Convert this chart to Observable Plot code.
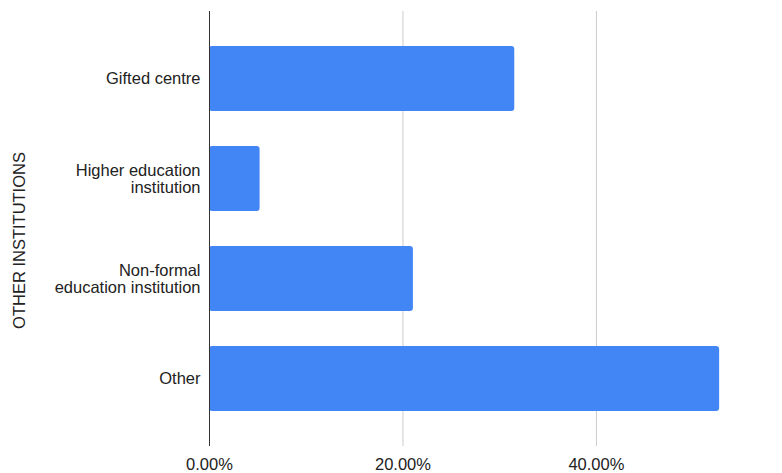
<!DOCTYPE html>
<html>
<head>
<meta charset="utf-8">
<script src="https://cdn.jsdelivr.net/npm/d3@7"></script>
<script src="https://cdn.jsdelivr.net/npm/@observablehq/plot@0.6"></script>
<style>
  body { margin: 0; background: #fff; }
</style>
</head>
<body>
<div id="chart"></div>
<script>
const categories = ["Gifted centre", "Higher education\ninstitution", "Non-formal\neducation institution", "Other"];
const values = [0.3156, 0.0523, 0.2108, 0.5274];
const xTicks = [0, 0.2, 0.4];
const yTitle = "OTHER INSTITUTIONS";

const data = categories.map((c, i) => ({category: c, value: values[i]}));

const chart = Plot.plot({
  width: 782,
  height: 473,
  marginLeft: 209,
  marginRight: 41,
  marginTop: 11,
  marginBottom: 27,
  style: {fontFamily: "'Liberation Sans', Arial, sans-serif", fontSize: "16.5px", color: "#222", background: "#fff"},
  x: {domain: [0, 0.55], ticks: xTicks, tickFormat: d3.format(".2%")},
  y: {domain: categories, padding: 0.35},
  marks: [
    Plot.gridX(xTicks.slice(1), {stroke: "#ccc", strokeOpacity: 1, strokeWidth: 1}),
    Plot.barX(data, {x: "value", y: "category", fill: "#4285F4", rx: 3}),
    Plot.ruleX([0], {stroke: "#333", strokeWidth: 1}),
    Plot.axisX({ticks: xTicks, tickFormat: d3.format(".2%"), tickSize: 0, tickPadding: 12, label: null, fontSize: 16.5}),
    Plot.axisY({tickSize: 0, tickPadding: 9, label: null, lineHeight: 1.0, fontSize: 16.5}),
    Plot.text([yTitle], {frameAnchor: "left", text: d => d, rotate: -90, textAnchor: "middle", dx: -190, dy: 11.5, fontSize: 16.5, fill: "#222"})
  ]
});
document.getElementById("chart").appendChild(chart);
</script>
</body>
</html>
